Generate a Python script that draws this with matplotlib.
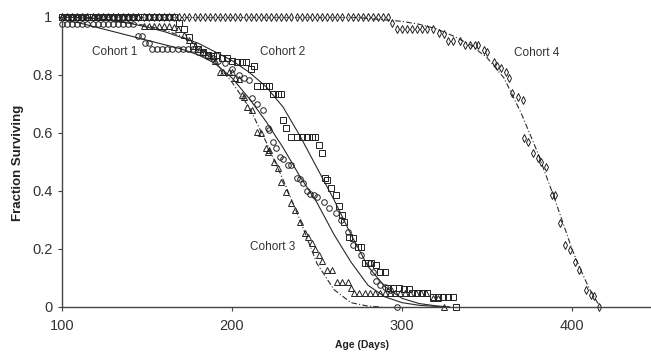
import matplotlib
matplotlib.use("Agg")
import matplotlib.pyplot as plt

plt.rcParams['font.family'] = ['Liberation Sans', 'DejaVu Sans']

# Cohort 1 (circles)
c1_age = [100, 103, 106, 109, 112, 115, 118, 121, 124, 127, 130, 133, 136, 139, 142,
          145, 147, 149, 151,
          153, 156, 159, 162, 165, 168, 171, 174, 177,
          180, 183, 186, 189, 192, 196, 200, 204, 207, 210,
          212, 215, 218, 221, 222, 224, 226, 228, 230, 233, 235, 238, 240, 242, 244, 246, 248, 250,
          254, 257, 261, 264, 268, 271, 276, 281, 283, 285, 287, 290, 293, 297]
c1_val = [0.975] * 15 + [0.934, 0.934, 0.91, 0.91] + [0.89] * 9 + \
         [0.88, 0.875, 0.865, 0.86, 0.85, 0.84, 0.82, 0.80, 0.79, 0.783,
          0.72, 0.70, 0.68, 0.617, 0.61, 0.57, 0.55, 0.517, 0.51, 0.49, 0.49, 0.445, 0.44, 0.428, 0.40, 0.39, 0.386, 0.379,
          0.362, 0.34, 0.324, 0.30, 0.259, 0.214, 0.179, 0.152, 0.12, 0.09, 0.076, 0.07, 0.06, 0.0]

# Cohort 2 (squares)
c2_age = [100, 103, 106, 109, 112, 115, 118, 121, 124, 127, 130, 133, 136, 139, 142, 145,
          148, 151, 154, 157, 160, 163, 166,
          169, 172, 175, 177, 180, 183, 186, 189, 191, 194, 197, 200, 203, 206, 208, 211, 213,
          215, 218, 220, 222, 224, 227, 229, 230, 232, 235, 238, 241, 244, 247, 249, 251, 253,
          255, 256, 258, 261, 263, 265, 266, 269, 271, 274, 276, 278, 280, 282, 285, 287, 290,
          292, 295, 298, 301, 304, 306, 309, 312, 315, 318, 321, 324, 327, 330, 332]
c2_val = [1.0] * 23 + \
         [0.98, 0.96, 0.93, 0.90, 0.89, 0.88, 0.87, 0.865, 0.87, 0.86, 0.86, 0.85, 0.845, 0.845, 0.845, 0.82, 0.83,
          0.762, 0.762, 0.762, 0.762, 0.734, 0.734, 0.734, 0.645, 0.617, 0.586, 0.586, 0.586, 0.586, 0.586, 0.586, 0.559, 0.531,
          0.445, 0.438, 0.41, 0.386, 0.35, 0.317, 0.293, 0.241, 0.238, 0.207, 0.207, 0.152, 0.152, 0.152, 0.145, 0.12, 0.12,
          0.066, 0.066, 0.066, 0.062, 0.062, 0.048, 0.048, 0.048, 0.048, 0.034, 0.034, 0.034, 0.034, 0.034, 0.0]

# Cohort 3 (triangles)
c3_age = [100, 103, 106, 109, 112, 115, 118, 121, 124, 127, 130, 133, 136, 139, 142, 145,
          148, 151, 154, 157, 160, 163,
          166, 168, 172, 175, 178, 181, 184, 187, 190, 193, 195, 198, 200, 202, 204, 206, 207, 209, 212,
          215, 217, 220, 221, 222, 225, 227, 229, 232, 235, 237, 240, 243, 245, 247, 249, 251, 253,
          256, 259, 262, 265, 268, 270,
          272, 275, 278, 281, 284, 287, 290, 293, 296, 299, 302, 305, 308, 311, 314,
          318, 321, 325]
c3_val = [1.0] * 16 + [0.97] * 6 + \
         [0.965, 0.958, 0.938, 0.92, 0.90, 0.89, 0.88, 0.87, 0.85, 0.81, 0.81, 0.81, 0.81, 0.79, 0.786, 0.73, 0.724, 0.69, 0.68,
          0.603, 0.60, 0.548, 0.534, 0.54, 0.50, 0.48, 0.43, 0.397, 0.359, 0.334, 0.293, 0.255, 0.24, 0.22, 0.20, 0.18, 0.16,
          0.128, 0.128, 0.086, 0.086, 0.086, 0.066] + [0.048] * 15 + [0.03, 0.03, 0.0]

# Cohort 4 (diamonds)
c4_age = [100, 103, 106, 109, 112, 115, 118, 121, 124, 127, 130, 133, 136, 139, 142, 145,
          148, 151, 154, 157, 160, 163, 166, 169, 172, 175, 178, 181, 184, 187, 190, 193,
          196, 199, 202, 205, 208, 211, 214, 217, 220, 223, 226, 229, 232, 235, 238, 241,
          244, 247, 250, 253, 256, 259, 262, 265, 268, 271, 274, 277, 280, 283, 286, 289, 292,
          294, 297, 300, 303, 306, 309, 312, 315, 318,
          322, 325, 327, 330, 334, 337, 340, 343, 345, 348, 350, 354, 356, 358, 361, 363, 365, 368, 371,
          372, 374, 377, 380, 382, 385, 388, 390, 393, 396, 399, 402, 404, 408, 411, 413, 416]
c4_val = [1.0] * 65 + [0.98] + [0.957] * 8 + \
         [0.945, 0.94, 0.918, 0.918, 0.918, 0.903, 0.903, 0.903, 0.903, 0.886, 0.88, 0.845, 0.83, 0.824, 0.81, 0.79, 0.738, 0.725, 0.714,
          0.583, 0.569, 0.53, 0.514, 0.50, 0.483, 0.386, 0.386, 0.29, 0.214, 0.197, 0.155, 0.128, 0.059, 0.041, 0.038, 0.0]

# ---- fitted curves ----
f1_age = [100, 110, 120, 130, 140, 150, 160, 170, 180, 190, 200, 210, 220, 230, 240, 250, 260, 270, 280, 290, 300, 310, 320, 328]
f1_val = [0.99, 0.98, 0.965, 0.95, 0.935, 0.92, 0.905, 0.89, 0.87, 0.84, 0.79, 0.72, 0.64, 0.55, 0.45, 0.36, 0.25, 0.155, 0.075, 0.035, 0.015, 0.006, 0.002, 0.0]

f2_age = [100, 120, 140, 150, 160, 170, 180, 190, 200, 210, 220, 230, 240, 250, 260, 270, 280, 290, 300, 310, 320, 328]
f2_val = [1.0, 0.995, 0.978, 0.965, 0.95, 0.93, 0.91, 0.88, 0.85, 0.81, 0.76, 0.69, 0.59, 0.48, 0.37, 0.25, 0.14, 0.07, 0.03, 0.012, 0.004, 0.0]

f3_age = [100, 120, 140, 150, 160, 170, 180, 190, 200, 210, 220, 230, 240, 250, 260, 270, 280, 288]
f3_val = [1.0, 0.995, 0.98, 0.97, 0.955, 0.935, 0.9, 0.845, 0.775, 0.69, 0.57, 0.44, 0.30, 0.15, 0.06, 0.015, 0.003, 0.0]

f4_age = [100, 270, 290, 300, 310, 320, 330, 340, 350, 360, 370, 380, 390, 400, 405, 410, 415, 418]
f4_val = [1.0, 1.0, 0.99, 0.985, 0.975, 0.96, 0.935, 0.905, 0.86, 0.79, 0.67, 0.53, 0.37, 0.20, 0.13, 0.065, 0.015, 0.0]

fig = plt.figure(figsize=(6.51, 3.58), dpi=100)
ax = fig.add_axes([62 / 651, 51 / 358, 589 / 651, 290 / 358])

ink = '#2a2a2a'
ax.plot(f1_age, f1_val, color=ink, lw=0.8)
ax.plot(f2_age, f2_val, color=ink, lw=0.8)
ax.plot(f3_age, f3_val, color=ink, lw=0.8, linestyle=(0, (5, 2, 1, 2)))
ax.plot(f4_age, f4_val, color=ink, lw=0.8, linestyle=(0, (5, 2, 1, 2)))

# open markers, drawn over the fits
mk = dict(linestyle='none', mfc='none', mec='#222222', mew=0.7, clip_on=False)
ax.plot(c4_age, c4_val, marker='d', ms=4.2, **mk)
ax.plot(c3_age, c3_val, marker='^', ms=4.2, **mk)
ax.plot(c2_age, c2_val, marker='s', ms=4.4, **mk)
ax.plot(c1_age, c1_val, marker='o', ms=4.0, **mk)

ax.text(131, 0.88, 'Cohort 1', ha='center', va='center', fontsize=8.5, color='#333333')
ax.text(230, 0.88, 'Cohort 2', ha='center', va='center', fontsize=8.5, color='#333333')
ax.text(224, 0.207, 'Cohort 3', ha='center', va='center', fontsize=8.5, color='#333333')
ax.text(379, 0.876, 'Cohort 4', ha='center', va='center', fontsize=8.5, color='#333333')

ax.set_xlim(100, 446.5)
ax.set_ylim(0, 1)
ax.set_xticks([100, 200, 300, 400])
ax.set_yticks([0, 0.2, 0.4, 0.6, 0.8, 1])
ax.set_yticklabels(['0', '0.2', '0.4', '0.6', '0.8', '1'])
ax.tick_params(axis='both', direction='out', length=3, width=0.8, colors='#444444',
               labelsize=10.5, labelcolor='#333333')
ax.tick_params(axis='x', pad=6)
ax.tick_params(axis='y', pad=4)

for s in ['top', 'right']:
    ax.spines[s].set_visible(False)
for s in ['left', 'bottom']:
    ax.spines[s].set_color('#444444')
    ax.spines[s].set_linewidth(1.0)

fig.text(18 / 651, 1 - 163 / 358, 'Fraction Surviving', rotation=90, ha='center', va='center',
         fontsize=9.5, fontweight='bold', color='#222222')
fig.text(362 / 651, 1 - 345 / 358, 'Age (Days)', ha='center', va='center',
         fontsize=7.5, fontweight='bold', color='#222222')

fig.savefig('out.png', dpi=100)
